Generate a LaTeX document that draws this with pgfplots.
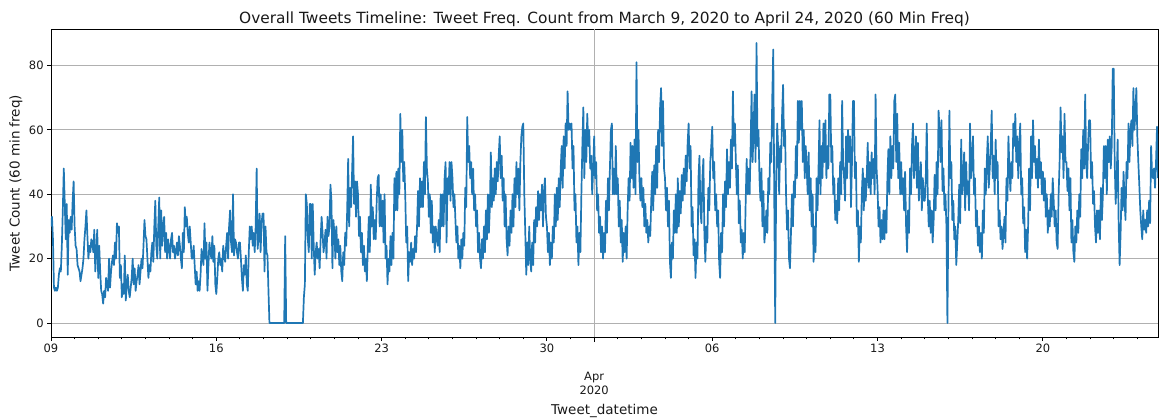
\documentclass[border=0pt]{standalone}
\usepackage{fontspec}
\setmainfont{DejaVu Sans}
\usepackage{pgfplots}
\usepackage{pgfplotstable}
\pgfplotsset{compat=1.18}
\definecolor{mplblue}{HTML}{1F77B4}
\definecolor{gridgray}{HTML}{B0B0B0}
\pgfplotstableread[row sep=\\, header=false]{
30\\ 33\\ 26\\ 11\\ 10\\ 11\\ 10\\ 11\\ 15\\ 17\\ 16\\ 24\\ 35\\ 48\\ 37\\ 26\\ 37\\ 15\\ 32\\ 28\\ 33\\ 29\\ 38\\ 44\\
30\\ 24\\ 23\\ 18\\ 17\\ 16\\ 13\\ 15\\ 17\\ 20\\ 26\\ 30\\ 35\\ 27\\ 20\\ 24\\ 22\\ 26\\ 25\\ 22\\ 29\\ 16\\ 22\\ 29\\
14\\ 24\\ 16\\ 10\\ 9\\ 6\\ 10\\ 8\\ 14\\ 12\\ 10\\ 20\\ 11\\ 16\\ 19\\ 21\\ 18\\ 25\\ 20\\ 31\\ 28\\ 30\\ 14\\ 18\\
8\\ 12\\ 9\\ 21\\ 7\\ 12\\ 15\\ 10\\ 8\\ 11\\ 14\\ 20\\ 12\\ 17\\ 10\\ 13\\ 15\\ 18\\ 12\\ 16\\ 20\\ 17\\ 24\\ 32\\
27\\ 26\\ 20\\ 14\\ 18\\ 16\\ 22\\ 25\\ 19\\ 30\\ 38\\ 24\\ 20\\ 30\\ 39\\ 20\\ 35\\ 24\\ 30\\ 33\\ 22\\ 28\\ 20\\ 26\\
23\\ 20\\ 26\\ 28\\ 22\\ 24\\ 20\\ 22\\ 25\\ 21\\ 27\\ 24\\ 20\\ 17\\ 28\\ 22\\ 36\\ 30\\ 33\\ 28\\ 25\\ 30\\ 25\\ 20\\
20\\ 24\\ 18\\ 12\\ 16\\ 10\\ 13\\ 10\\ 15\\ 23\\ 20\\ 18\\ 31\\ 20\\ 25\\ 10\\ 18\\ 25\\ 22\\ 20\\ 27\\ 19\\ 24\\ 12\\
9\\ 14\\ 20\\ 22\\ 18\\ 20\\ 16\\ 24\\ 21\\ 19\\ 24\\ 28\\ 20\\ 30\\ 35\\ 25\\ 22\\ 40\\ 21\\ 26\\ 25\\ 22\\ 20\\ 25\\
25\\ 20\\ 14\\ 10\\ 18\\ 15\\ 21\\ 12\\ 10\\ 22\\ 30\\ 26\\ 30\\ 24\\ 28\\ 22\\ 30\\ 48\\ 23\\ 27\\ 34\\ 22\\ 31\\ 34\\
34\\ 16\\ 30\\ 22\\ 21\\ 10\\ 0\\ 0\\ 0\\ 0\\ 0\\ 0\\ 0\\ 0\\ 0\\ 0\\ 0\\ 0\\ 0\\ 0\\ 0\\ 0\\ 27\\ 0\\
0\\ 0\\ 0\\ 0\\ 0\\ 0\\ 0\\ 0\\ 0\\ 0\\ 0\\ 0\\ 0\\ 0\\ 0\\ 0\\ 0\\ 8\\ 12\\ 40\\ 37\\ 26\\ 22\\ 37\\
37\\ 20\\ 37\\ 24\\ 15\\ 22\\ 25\\ 20\\ 23\\ 17\\ 26\\ 33\\ 28\\ 22\\ 25\\ 29\\ 20\\ 33\\ 27\\ 30\\ 43\\ 38\\ 17\\ 32\\
28\\ 20\\ 30\\ 22\\ 26\\ 18\\ 24\\ 16\\ 13\\ 22\\ 18\\ 28\\ 24\\ 35\\ 51\\ 30\\ 42\\ 36\\ 47\\ 58\\ 37\\ 44\\ 33\\ 44\\
40\\ 27\\ 33\\ 22\\ 28\\ 18\\ 24\\ 16\\ 20\\ 13\\ 24\\ 33\\ 22\\ 43\\ 30\\ 36\\ 26\\ 32\\ 26\\ 38\\ 45\\ 46\\ 30\\ 40\\
30\\ 38\\ 25\\ 40\\ 20\\ 24\\ 12\\ 20\\ 16\\ 27\\ 18\\ 28\\ 20\\ 45\\ 35\\ 47\\ 35\\ 48\\ 40\\ 65\\ 50\\ 60\\ 44\\ 50\\
40\\ 25\\ 30\\ 13\\ 22\\ 19\\ 25\\ 18\\ 23\\ 20\\ 27\\ 22\\ 30\\ 41\\ 30\\ 45\\ 36\\ 44\\ 36\\ 50\\ 40\\ 64\\ 48\\ 44\\
33\\ 40\\ 28\\ 38\\ 25\\ 30\\ 22\\ 30\\ 26\\ 24\\ 32\\ 22\\ 40\\ 30\\ 40\\ 30\\ 45\\ 50\\ 25\\ 45\\ 40\\ 50\\ 38\\ 50\\
45\\ 36\\ 40\\ 32\\ 25\\ 30\\ 20\\ 24\\ 17\\ 26\\ 20\\ 28\\ 24\\ 42\\ 36\\ 64\\ 50\\ 55\\ 45\\ 50\\ 40\\ 48\\ 35\\ 40\\
30\\ 35\\ 22\\ 28\\ 20\\ 17\\ 26\\ 20\\ 30\\ 22\\ 35\\ 26\\ 40\\ 28\\ 36\\ 53\\ 36\\ 45\\ 38\\ 48\\ 40\\ 50\\ 44\\ 52\\
58\\ 45\\ 52\\ 38\\ 45\\ 30\\ 40\\ 26\\ 21\\ 30\\ 24\\ 35\\ 28\\ 40\\ 30\\ 45\\ 36\\ 50\\ 40\\ 48\\ 35\\ 50\\ 58\\ 61\\
62\\ 40\\ 28\\ 15\\ 25\\ 18\\ 30\\ 20\\ 16\\ 25\\ 18\\ 32\\ 25\\ 36\\ 30\\ 41\\ 32\\ 40\\ 35\\ 43\\ 30\\ 41\\ 45\\ 33\\
30\\ 22\\ 28\\ 18\\ 25\\ 20\\ 30\\ 25\\ 40\\ 30\\ 42\\ 32\\ 45\\ 36\\ 48\\ 55\\ 42\\ 58\\ 48\\ 62\\ 55\\ 72\\ 60\\ 62\\
60\\ 62\\ 48\\ 55\\ 35\\ 40\\ 25\\ 30\\ 18\\ 28\\ 22\\ 40\\ 55\\ 67\\ 45\\ 60\\ 50\\ 65\\ 55\\ 60\\ 48\\ 52\\ 40\\ 48\\
58\\ 45\\ 50\\ 35\\ 40\\ 28\\ 33\\ 22\\ 30\\ 20\\ 28\\ 22\\ 38\\ 28\\ 45\\ 35\\ 48\\ 60\\ 62\\ 40\\ 48\\ 40\\ 55\\ 40\\
45\\ 30\\ 38\\ 25\\ 32\\ 19\\ 28\\ 22\\ 30\\ 20\\ 35\\ 45\\ 38\\ 56\\ 45\\ 55\\ 42\\ 57\\ 40\\ 81\\ 50\\ 60\\ 45\\ 38\\
45\\ 36\\ 42\\ 30\\ 37\\ 28\\ 32\\ 25\\ 30\\ 27\\ 38\\ 47\\ 35\\ 49\\ 40\\ 55\\ 42\\ 60\\ 50\\ 67\\ 73\\ 55\\ 69\\ 48\\
45\\ 35\\ 42\\ 30\\ 38\\ 19\\ 14\\ 25\\ 20\\ 35\\ 28\\ 40\\ 28\\ 45\\ 30\\ 41\\ 34\\ 46\\ 38\\ 48\\ 40\\ 52\\ 44\\ 56\\
62\\ 48\\ 55\\ 30\\ 36\\ 21\\ 26\\ 14\\ 25\\ 20\\ 45\\ 52\\ 35\\ 31\\ 45\\ 51\\ 28\\ 19\\ 30\\ 25\\ 42\\ 35\\ 50\\ 55\\
61\\ 45\\ 50\\ 35\\ 40\\ 30\\ 35\\ 19\\ 14\\ 28\\ 22\\ 40\\ 30\\ 44\\ 36\\ 54\\ 40\\ 50\\ 42\\ 57\\ 48\\ 72\\ 55\\ 62\\
50\\ 40\\ 49\\ 31\\ 38\\ 25\\ 29\\ 20\\ 28\\ 22\\ 38\\ 51\\ 40\\ 48\\ 40\\ 55\\ 72\\ 50\\ 60\\ 71\\ 50\\ 87\\ 55\\ 60\\
45\\ 38\\ 48\\ 30\\ 41\\ 25\\ 29\\ 35\\ 28\\ 45\\ 40\\ 56\\ 50\\ 70\\ 85\\ 40\\ 0\\ 45\\ 62\\ 54\\ 40\\ 55\\ 50\\ 65\\
74\\ 55\\ 60\\ 40\\ 29\\ 35\\ 20\\ 17\\ 28\\ 40\\ 30\\ 44\\ 39\\ 55\\ 45\\ 69\\ 56\\ 69\\ 60\\ 69\\ 50\\ 60\\ 45\\ 55\\
48\\ 40\\ 53\\ 35\\ 45\\ 30\\ 40\\ 19\\ 30\\ 22\\ 45\\ 35\\ 48\\ 63\\ 40\\ 55\\ 45\\ 62\\ 50\\ 63\\ 45\\ 55\\ 48\\ 71\\
71\\ 50\\ 55\\ 40\\ 45\\ 32\\ 38\\ 31\\ 45\\ 35\\ 50\\ 40\\ 69\\ 50\\ 45\\ 38\\ 58\\ 45\\ 60\\ 50\\ 58\\ 36\\ 50\\ 69\\
69\\ 45\\ 50\\ 30\\ 35\\ 19\\ 30\\ 25\\ 40\\ 48\\ 35\\ 45\\ 38\\ 45\\ 56\\ 42\\ 50\\ 40\\ 53\\ 45\\ 51\\ 40\\ 71\\ 48\\
42\\ 30\\ 36\\ 25\\ 32\\ 26\\ 35\\ 26\\ 35\\ 28\\ 45\\ 54\\ 40\\ 58\\ 45\\ 55\\ 48\\ 69\\ 71\\ 50\\ 65\\ 45\\ 56\\ 40\\
50\\ 40\\ 45\\ 35\\ 47\\ 30\\ 22\\ 35\\ 28\\ 48\\ 40\\ 55\\ 62\\ 45\\ 50\\ 58\\ 42\\ 56\\ 38\\ 45\\ 50\\ 35\\ 45\\ 38\\
38\\ 45\\ 62\\ 40\\ 30\\ 38\\ 28\\ 35\\ 25\\ 32\\ 46\\ 35\\ 50\\ 40\\ 66\\ 60\\ 50\\ 63\\ 41\\ 48\\ 35\\ 40\\ 30\\ 0\\
35\\ 66\\ 45\\ 50\\ 32\\ 38\\ 26\\ 30\\ 18\\ 25\\ 32\\ 43\\ 31\\ 57\\ 40\\ 45\\ 53\\ 35\\ 50\\ 40\\ 44\\ 35\\ 62\\ 45\\
50\\ 58\\ 40\\ 45\\ 30\\ 35\\ 24\\ 30\\ 22\\ 28\\ 20\\ 35\\ 28\\ 48\\ 40\\ 50\\ 58\\ 42\\ 48\\ 55\\ 66\\ 45\\ 52\\ 40\\
57\\ 45\\ 50\\ 30\\ 35\\ 26\\ 30\\ 23\\ 28\\ 33\\ 25\\ 45\\ 38\\ 58\\ 48\\ 41\\ 50\\ 45\\ 62\\ 55\\ 65\\ 50\\ 58\\ 45\\
55\\ 62\\ 40\\ 45\\ 31\\ 36\\ 22\\ 29\\ 20\\ 30\\ 48\\ 35\\ 58\\ 45\\ 63\\ 50\\ 55\\ 45\\ 51\\ 42\\ 57\\ 45\\ 50\\ 40\\
47\\ 38\\ 45\\ 33\\ 40\\ 28\\ 35\\ 30\\ 40\\ 33\\ 45\\ 38\\ 30\\ 35\\ 25\\ 23\\ 40\\ 50\\ 67\\ 53\\ 58\\ 45\\ 65\\ 50\\
50\\ 41\\ 48\\ 35\\ 45\\ 25\\ 32\\ 22\\ 19\\ 30\\ 25\\ 35\\ 28\\ 40\\ 33\\ 54\\ 45\\ 60\\ 48\\ 71\\ 50\\ 45\\ 56\\ 63\\
63\\ 45\\ 50\\ 37\\ 41\\ 30\\ 25\\ 35\\ 28\\ 35\\ 26\\ 42\\ 32\\ 40\\ 55\\ 45\\ 55\\ 40\\ 57\\ 50\\ 58\\ 48\\ 55\\ 79\\
79\\ 50\\ 37\\ 45\\ 57\\ 31\\ 18\\ 28\\ 42\\ 35\\ 47\\ 38\\ 32\\ 50\\ 45\\ 62\\ 50\\ 60\\ 63\\ 55\\ 73\\ 60\\ 65\\ 73\\
58\\ 50\\ 43\\ 35\\ 30\\ 26\\ 35\\ 29\\ 32\\ 28\\ 35\\ 30\\ 38\\ 31\\ 55\\ 46\\ 45\\ 48\\ 42\\ 50\\ 61\\ 45\\
}\tweets
\begin{document}
\begin{tikzpicture}
\useasboundingbox (-51pt,-81pt) rectangle (1109pt,337pt);
\begin{axis}[
  at={(0pt,0pt)}, anchor=south west,
  width=1107pt, height=308pt, scale only axis,
  xmin=0, xmax=1125, ymin=-4.35, ymax=91.35,
  axis line style={line width=0.9pt, draw=black},
  every tick/.style={line width=0.9pt, black},
  tick align=outside,
  xtick pos=left, ytick pos=left,
  ytick={0,20,40,60,80},
  xtick={0,168,336,504,672,840,1008},
  xticklabels={09,16,23,30,06,13,20},
  minor xtick={0,24,...,1104},
  major tick length=3.85pt, minor tick length=2.4pt,
  ymajorgrids,
  grid style={gridgray, line width=0.9pt},
  extra x ticks={552},
  extra x tick labels={Apr\\2020},
  extra x tick style={grid=major, major tick length=5pt,
     tick label style={align=center, yshift=-27pt}},
  tick label style={font=\fontsize{11.5}{13.5}\selectfont, text=black!90},
  /pgf/number format/assume math mode=true,
  every axis title/.style={at={(axis description cs:0.5,1)}, anchor=base, yshift=5pt,
     font=\fontsize{15.4}{17}\selectfont, text=black!90},
  every axis x label/.style={at={(axis description cs:0.5,-0.25)}, anchor=base,
     font=\fontsize{13.5}{15}\selectfont, text=black!90},
  every axis y label/.style={at={(axis description cs:-0.0316,0.5)}, rotate=90, anchor=center,
     font=\fontsize{13.5}{15}\selectfont, text=black!90},
  title={Overall Tweets Timeline: Tweet Freq. Count from March 9, 2020 to April 24, 2020 (60 Min Freq)},
  xlabel={Tweet\_datetime},
  ylabel={Tweet Count (60 min freq)},
]
\addplot[mplblue, line width=1.7pt, line join=round, no markers]
  table[x expr=\coordindex, y index=0] {\tweets};
\end{axis}
\end{tikzpicture}
\end{document}
